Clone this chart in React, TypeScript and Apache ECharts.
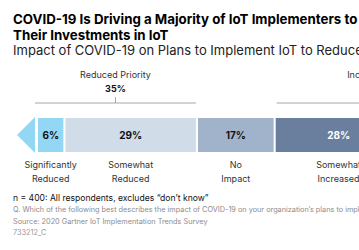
import React, { useEffect, useRef } from 'react';
import * as echarts from 'echarts';

// Survey shares, left to right along the stacked bar
const segmentNames = [
  'Significantly\nReduced',
  'Somewhat\nReduced',
  'No\nImpact',
  'Somewhat\nIncreased',
  'Significantly\nIncreased',
];
const segmentShares = [6, 29, 17, 28, 20];
const segmentColors = ['#93d7f5', '#d0dce8', '#a1b3cb', '#6a7f9e', '#3d547a'];
const segmentLabelColors = ['#111', '#111', '#111', '#fff', '#fff'];

// Bracketed groups above the bar
const groupNames = ['Reduced Priority', 'Increased Priority'];
const groupTotals = [35, 48];
const groupStarts = [0, 52];
const groupEnds = [35, 100];

const titleLines = [
  'COVID-19 Is Driving a Majority of IoT Implementers to',
  'Their Investments in IoT',
];
const subtitle = 'Impact of COVID-19 on Plans to Implement IoT to Reduce Costs';
const footnote = 'n = 400: All respondents, excludes \u201cdon\u2019t know\u201d';
const question =
  'Q. Which of the following best describes the impact of COVID-19 on your organization\u2019s plans to implement IoT to reduce costs?';
const source = 'Source: 2020 Gartner IoT Implementation Trends Survey';
const docId = '733212_C';

const FONT = 'Inter, "Noto Sans", sans-serif';

export default function App() {
  const ref = useRef<HTMLDivElement>(null);

  useEffect(() => {
    if (!ref.current) return;
    const chart = echarts.init(ref.current, null, { renderer: 'svg' });

    const starts: number[] = [];
    segmentShares.reduce((acc, v) => {
      starts.push(acc);
      return acc + v;
    }, 0);

    const barSeries = segmentShares.map((v, i) => ({
      type: 'bar',
      name: segmentNames[i],
      stack: 'total',
      barWidth: 36,
      clip: false,
      data: [v],
      itemStyle: { color: segmentColors[i], borderColor: '#fff', borderWidth: 1 },
      label: {
        show: true,
        position: 'inside',
        formatter: '{c}%',
        color: segmentLabelColors[i],
        fontFamily: FONT,
        fontWeight: 'bold',
        fontSize: 10,
      },
    }));

    const option: any = {
      animation: false,
      grid: {
        left: 37,
        top: 117,
        height: 36,
        width: 457,
        containLabel: false,
        outerBoundsMode: 'none',
      },
      xAxis: { type: 'value', min: 0, max: 100, show: false },
      yAxis: { type: 'category', data: ['all'], show: false },
      series: [
        ...barSeries,
        {
          // arrow head at the "reduced" end of the bar
          type: 'custom',
          clip: false,
          silent: true,
          data: [[0, 0]],
          renderItem: (_p: any, api: any) => {
            const c = api.coord([api.value(0), 0]);
            const h = api.size([0, 1])[1];
            const x = c[0] - 2;
            return {
              type: 'polygon',
              shape: {
                points: [
                  [x, c[1] - h / 2],
                  [x, c[1] + h / 2],
                  [x - 18, c[1]],
                ],
              },
              style: { fill: segmentColors[0] },
            };
          },
        },
        {
          // group brackets with totals
          type: 'custom',
          clip: false,
          silent: true,
          data: groupStarts.map((s, i) => [s, groupEnds[i], i]),
          renderItem: (_p: any, api: any) => {
            const i = api.value(2);
            const a = api.coord([api.value(0), 0]);
            const b = api.coord([api.value(1), 0]);
            const h = api.size([0, 1])[1];
            const top = a[1] - h / 2;
            const x1 = a[0] + (i === 0 ? -2 : 2);
            const x2 = b[0] - 1;
            const mid = (x1 + x2) / 2;
            const ly = top - 14;
            return {
              type: 'group',
              children: [
                {
                  type: 'line',
                  shape: { x1, y1: ly, x2, y2: ly },
                  style: { stroke: '#a6a6a6', lineWidth: 1 },
                },
                {
                  type: 'line',
                  shape: { x1: mid, y1: ly - 6, x2: mid, y2: ly },
                  style: { stroke: '#a6a6a6', lineWidth: 1 },
                },
                {
                  type: 'text',
                  style: {
                    x: mid,
                    y: top - 43,
                    text: groupNames[i],
                    align: 'center',
                    verticalAlign: 'middle',
                    fill: '#333',
                    font: `9px ${FONT}`,
                  },
                },
                {
                  type: 'text',
                  style: {
                    x: mid,
                    y: top - 29,
                    text: groupTotals[i] + '%',
                    align: 'center',
                    verticalAlign: 'middle',
                    fill: '#111',
                    font: `bold 9px ${FONT}`,
                  },
                },
              ],
            };
          },
        },
        {
          // category names under each segment
          type: 'custom',
          clip: false,
          silent: true,
          data: segmentShares.map((v, i) => [starts[i], starts[i] + v, i]),
          renderItem: (_p: any, api: any) => {
            const i = api.value(2);
            const a = api.coord([api.value(0), 0]);
            const b = api.coord([api.value(1), 0]);
            const h = api.size([0, 1])[1];
            return {
              type: 'text',
              style: {
                x: (a[0] + b[0]) / 2,
                y: a[1] + h / 2 + 4,
                text: segmentNames[i],
                align: 'center',
                verticalAlign: 'top',
                lineHeight: 14,
                fill: '#333',
                font: `9px ${FONT}`,
              },
            };
          },
        },
      ],
      graphic: [
        {
          type: 'text',
          left: 13,
          top: 11,
          style: {
            text: titleLines.join('\n'),
            font: `bold 13.3px ${FONT}`,
            lineHeight: 16,
            fill: '#000',
          },
        },
        {
          type: 'text',
          left: 13,
          top: 43,
          style: { text: subtitle, font: `13px ${FONT}`, fill: '#222' },
        },
        {
          type: 'text',
          left: 13,
          top: 193,
          style: { text: footnote, font: `8.6px ${FONT}`, fill: '#111' },
        },
        {
          type: 'text',
          left: 13,
          top: 206,
          style: { text: question, font: `7.3px ${FONT}`, fill: '#8c8c8c' },
        },
        {
          type: 'text',
          left: 13,
          top: 218,
          style: { text: source, font: `7.3px ${FONT}`, fill: '#8c8c8c' },
        },
        {
          type: 'text',
          left: 13,
          top: 229,
          style: { text: docId, font: `7.3px ${FONT}`, fill: '#9a9a9a' },
        },
      ],
    };

    chart.setOption(option);
    return () => chart.dispose();
  }, []);

  return (
    <div
      ref={ref}
      style={{ position: 'absolute', left: 0, top: 0, width: 359, height: 250, background: '#fff' }}
    />
  );
}
